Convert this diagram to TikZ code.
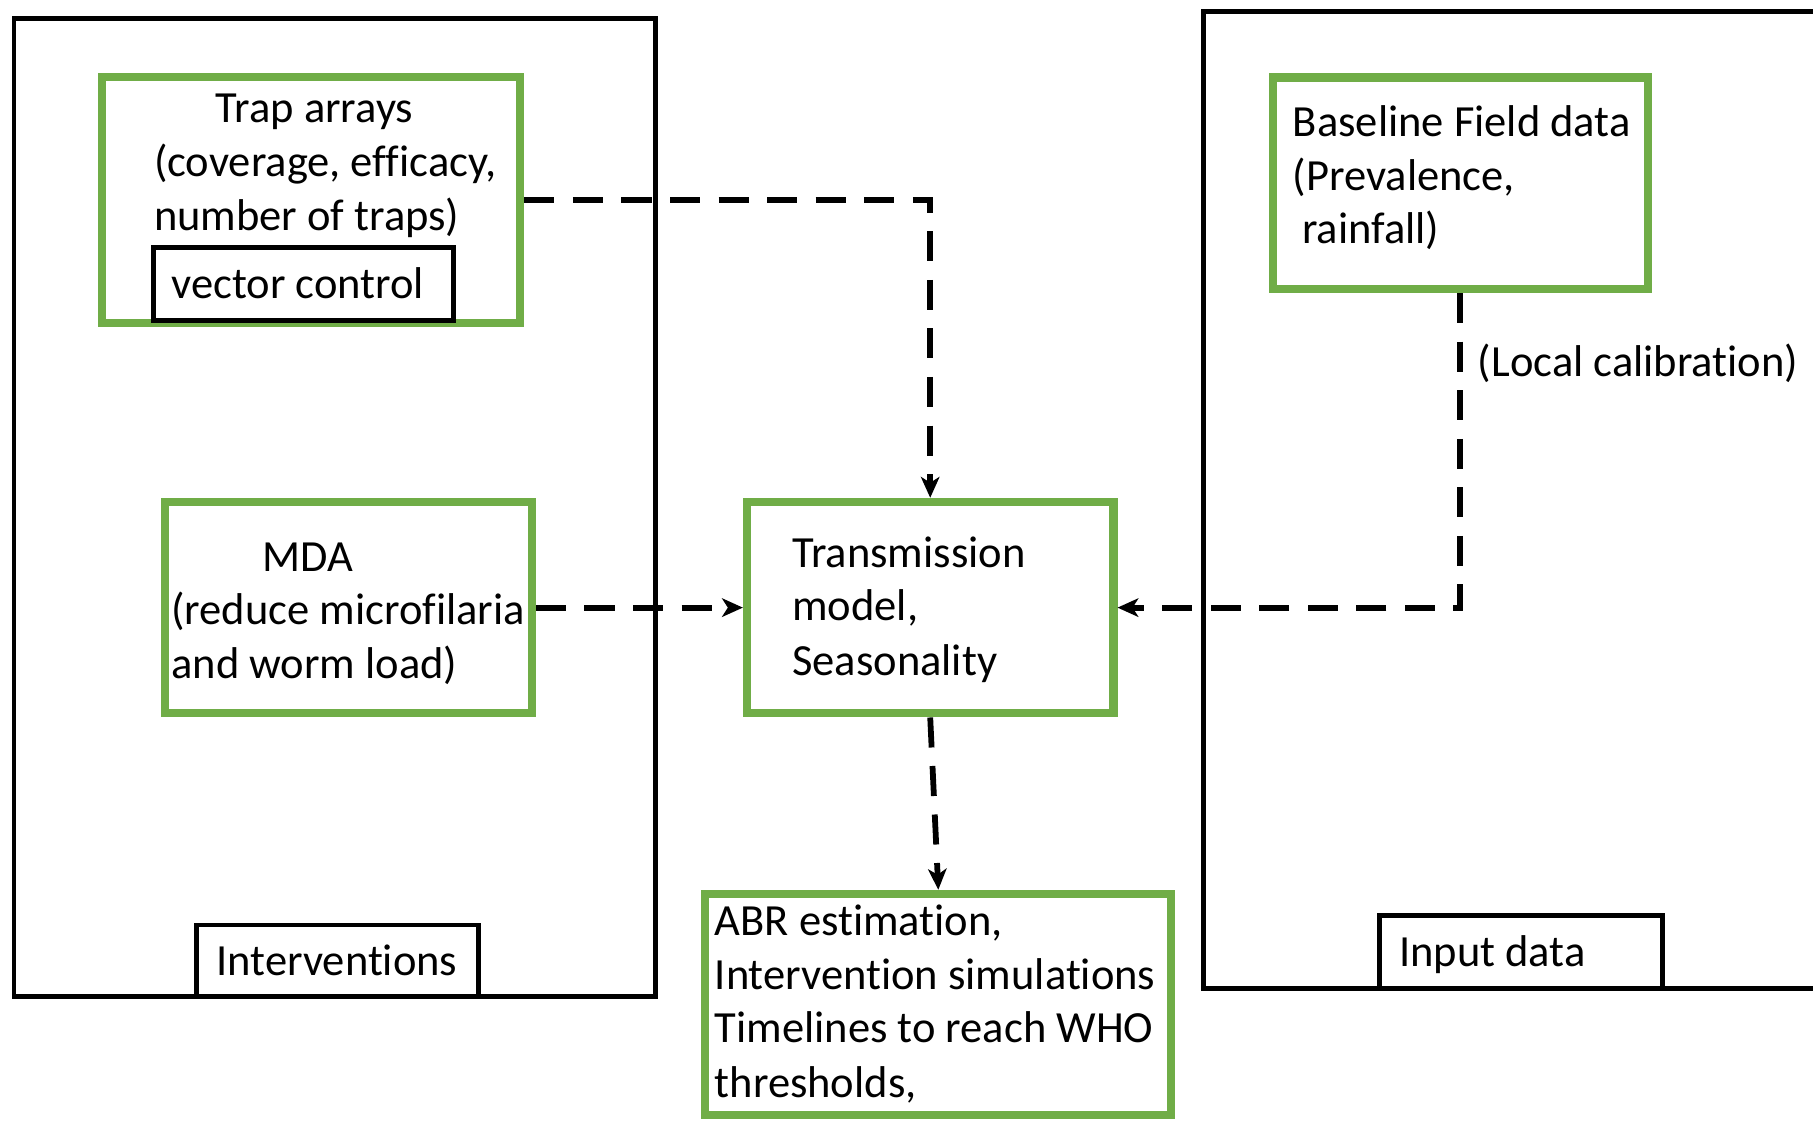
\documentclass[tikz,border=0pt]{standalone}
\usepackage{fontspec}
\setmainfont{Carlito}[Ligatures={NoCommon}]
\usetikzlibrary{arrows.meta}
\definecolor{offgreen}{RGB}{112,173,71}
\begin{document}
\begin{tikzpicture}[x=1pt,y=-1pt,
  gbox/.style={draw=offgreen, line width=7pt, fill=white, inner sep=0pt},
  kbox/.style={draw=black, line width=4pt, inner sep=0pt},
  txt/.style={inner sep=0pt, anchor=base west, font=\fontsize{38.5}{47}\selectfont},
  flow/.style={draw=black, line width=5pt, dash pattern=on 26pt off 16pt,
    -{Stealth[length=18pt,width=16pt,inset=5pt]}},
]
\useasboundingbox (0,0) rectangle (1568,970);
% containers
\node[kbox, minimum width=555pt, minimum height=846pt] (intv) at (289.5,439) {};
\node[kbox, minimum width=579pt, minimum height=845pt] (inp) at (1330.5,432.5) {};
% green boxes
\node[gbox, minimum width=362pt, minimum height=213pt] (trap) at (269,173) {};
\node[kbox, fill=white, minimum width=259pt, minimum height=63pt] (vc) at (262.5,245.5) {};
\node[gbox, minimum width=317pt, minimum height=183pt] (mda) at (301.5,525.5) {};
\node[gbox, minimum width=317pt, minimum height=183pt] (tm) at (804.5,525.5) {};
\node[gbox, minimum width=324pt, minimum height=183pt] (base) at (1263,158.5) {};
\node[gbox, minimum width=403pt, minimum height=191pt] (abr) at (811.5,868.5) {};
\node[kbox, fill=white, minimum width=244pt, minimum height=62pt] (ilab) at (292,831) {};
\node[kbox, fill=white, minimum width=245pt, minimum height=63pt] (dlab) at (1315.5,823.5) {};
% texts
\node[txt, anchor=base] (t1) at (272,106) {Trap arrays};
\node[txt] (t2) at (133,153) {(coverage, efficacy,};
\node[txt] (t3) at (133,199) {number of traps)};
\node[txt] (t4) at (148,258) {vector control};
\node[txt] (m1) at (227,494) {MDA};
\node[txt] (m2) at (148,540) {(reduce microfilaria};
\node[txt] (m3) at (148,587) {and worm load)};
\node[txt] (s1) at (685,491) {Transmission};
\node[txt] (s2) at (685,537) {model,};
\node[txt] (s3) at (685,584) {Seasonality};
\node[txt] (b1) at (1118,118) {Baseline Field data};
\node[txt] (b2) at (1118,165) {(Prevalence,};
\node[txt] (b3) at (1126,211) {rainfall)};
\node[txt] (lc) at (1278,326) {(Local calibration)};
\node[txt] (a1) at (618,809) {ABR estimation,};
\node[txt] (a2) at (618,856) {Intervention simulations};
\node[txt] (a3) at (618,902) {Timelines to reach WHO};
\node[txt] (a4) at (618,949) {thresholds,};
\node[txt] (il) at (187,844) {Interventions};
\node[txt] (dl) at (1210,836) {Input data};
% connectors
\draw[flow] (trap.east) -| (tm.north);
\draw[flow] (mda.east) -- (tm.west);
\draw[flow] (base.south) |- (tm.east);
\draw[flow] (tm.south) -- (abr.north);
\end{tikzpicture}
\end{document}
